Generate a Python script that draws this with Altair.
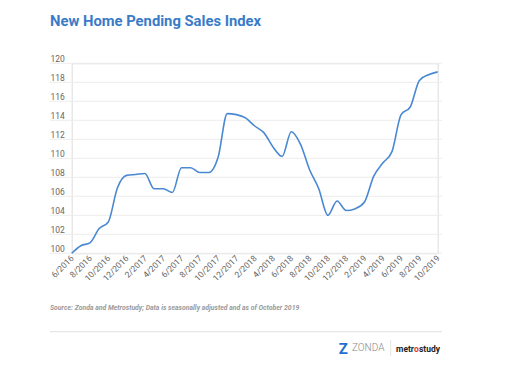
import altair as alt
import pandas as pd

months = [
    "6/2016", "7/2016", "8/2016", "9/2016", "10/2016", "11/2016", "12/2016",
    "1/2017", "2/2017", "3/2017", "4/2017", "5/2017", "6/2017", "7/2017",
    "8/2017", "9/2017", "10/2017", "11/2017", "12/2017", "1/2018", "2/2018",
    "3/2018", "4/2018", "5/2018", "6/2018", "7/2018", "8/2018", "9/2018",
    "10/2018", "11/2018", "12/2018", "1/2019", "2/2019", "3/2019", "4/2019",
    "5/2019", "6/2019", "7/2019", "8/2019", "9/2019", "10/2019",
]
index_values = [
    100.0, 100.8, 101.1, 102.6, 103.3, 106.9, 108.2,
    108.3, 108.4, 106.8, 106.8, 106.4, 109.0, 109.0,
    108.5, 108.5, 110.1, 114.7, 114.6, 114.25, 113.4,
    112.7, 111.2, 110.2, 112.8, 111.5, 108.8, 106.8,
    104.0, 105.5, 104.5, 104.7, 105.4, 108.1, 109.5,
    110.7, 114.6, 115.4, 118.2, 118.8, 119.1,
]
tick_labels = months[::2]
y_ticks = list(range(100, 121, 2))

title_text = "New Home Pending Sales Index"
source_text = "Source: Zonda and Metrostudy; Data is seasonally adjusted and as of October 2019"

W, H = 366, 190
LEFT = -21.7
RIGHT = W + 4.3

df = pd.DataFrame({"month": months, "value": index_values})
grid_df = pd.DataFrame({"value": y_ticks})

x_enc = alt.X(
    "month:O", sort=None,
    scale=alt.Scale(type="point", padding=0),
    axis=alt.Axis(
        values=tick_labels, title=None, domain=False, ticks=False, grid=False,
        labelAngle=315, labelAlign="right", labelBaseline="middle",
        labelPadding=3, labelFontSize=8.5, labelColor="#666666",
        labelFont="Roboto", labelOverlap=False,
    ),
)
y_scale = alt.Scale(domain=[100, 120], nice=False, zero=False)
y_axis = alt.Axis(
    values=y_ticks, title=None, domain=False, ticks=False, grid=False,
    labelAlign="left", labelPadding=21.7, labelBaseline="alphabetic",
    labelOffset=-2, labelFontSize=8.5, labelColor="#666666",
    labelFont="Roboto",
)

grid = alt.Chart(grid_df).mark_rule(color="#ececec", strokeWidth=1).encode(
    x=alt.value(LEFT), x2=alt.value(RIGHT),
    y=alt.Y("value:Q", scale=y_scale, axis=y_axis),
)

line = alt.Chart(df).mark_line(
    color="#4a88d2", strokeWidth=1.6, interpolate="monotone"
).encode(
    x=x_enc,
    y=alt.Y("value:Q", scale=y_scale, axis=y_axis),
)

def txt(s, x, y, **kw):
    return alt.Chart(pd.DataFrame({"t": [s]})).mark_text(**kw).encode(
        x=alt.value(x), y=alt.value(y), text="t:N"
    )

title = txt(title_text, LEFT, -41.3, align="left", baseline="middle",
            font="Roboto", fontSize=14.8, fontWeight="bold", color="#3a7bc8")
source = txt(source_text, LEFT, 244.7, align="left", baseline="middle",
             font="Roboto", fontSize=6.9, fontStyle="italic", fontWeight="bold",
             color="#9a9a9a")

hrule = alt.Chart(pd.DataFrame({"a": [0]})).mark_rule(
    color="#e6e6e6", strokeWidth=1.2
).encode(x=alt.value(LEFT), x2=alt.value(RIGHT), y=alt.value(268.4))
vsep = alt.Chart(pd.DataFrame({"a": [0]})).mark_rule(
    color="#dddddd", strokeWidth=0.8
).encode(x=alt.value(319.0), y=alt.value(277), y2=alt.value(292.5))

zmark = txt("Z", 271.5, 285.5, align="center", baseline="middle",
            font="Roboto", fontSize=15, fontWeight="bold", color="#1f6fd0")
zonda = txt("ZONDA", 280.3, 285, align="left", baseline="middle",
            font="Roboto", fontSize=10, fontWeight=300, color="#8a8a8a")
metr = txt("metr", 342.3, 285.5, align="right", baseline="middle",
           font="Roboto", fontSize=8.5, fontWeight="bold", color="#222222")
o_red = txt("o", 344.8, 285.5, align="center", baseline="middle",
            font="Roboto", fontSize=8.5, fontWeight="bold", color="#e03a2f")
study = txt("study", 347.3, 285.5, align="left", baseline="middle",
            font="Roboto", fontSize=8.5, fontWeight="bold", color="#222222")

chart = alt.layer(
    grid, line, title, source, hrule, vsep, zmark, zonda, metr, o_red, study
).properties(
    width=W, height=H,
    padding={"left": 63.7, "top": 55.3, "right": 75, "bottom": 103},
    autosize=alt.AutoSizeParams(type="none"),
).configure_view(stroke=None).configure(background="white")

chart.save("out.html", embed_options={"renderer": "svg", "actions": False})
